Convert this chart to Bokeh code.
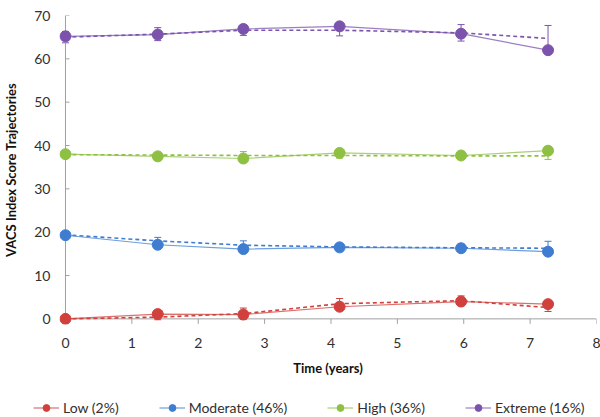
import math
from bokeh.plotting import figure
from bokeh.layouts import column
from bokeh.models import (ColumnDataSource, Range1d, Whisker, TeeHead, Legend,
                          LegendItem, FixedTicker)
from bokeh.embed import file_html
from bokeh.resources import INLINE

# ---- data ----
time_years = [0, 1.39, 2.68, 4.13, 5.96, 7.27]
series_names = ["Low (2%)", "Moderate (46%)", "High (36%)", "Extreme (16%)"]
low_observed = [0.0, 1.1, 1.0, 2.8, 4.0, 3.4]
low_estimated = [0.0, 0.4, 1.2, 3.5, 4.2, 2.6]
low_err = [0.2, 0.6, 1.3, 1.2, 1.1, 0.9]
moderate_observed = [19.3, 17.1, 16.1, 16.5, 16.3, 15.5]
moderate_estimated = [19.4, 18.0, 17.0, 16.6, 16.4, 16.3]
moderate_err = [0.4, 0.8, 1.0, 0.6, 0.8, 1.6]
high_observed = [38.0, 37.5, 37.0, 38.3, 37.7, 38.8]
high_estimated = [37.9, 37.8, 37.7, 37.7, 37.6, 37.6]
high_err = [0.4, 0.6, 0.9, 0.6, 0.5, 0.8]
extreme_observed = [65.2, 65.6, 66.9, 67.5, 65.8, 62.0]
extreme_estimated = [65.0, 65.7, 66.6, 66.6, 66.0, 64.7]
extreme_err = [1.3, 1.5, 1.2, 1.3, 1.9, 3.0]
x_ticks = [0, 1, 2, 3, 4, 5, 6, 7, 8]
y_ticks = [0, 10, 20, 30, 40, 50, 60, 70]

colors = ["#D0403C", "#3F7DD0", "#8EC043", "#7B53AD"]
observed = [low_observed, moderate_observed, high_observed, extreme_observed]
estimated = [low_estimated, moderate_estimated, high_estimated, extreme_estimated]
errors = [low_err, moderate_err, high_err, extreme_err]

FONT = "Lato"
AXIS_COLOR = "#A0A0A0"
WIDTH = 600
MAIN_H = 385
LEG_H = 32

p = figure(width=WIDTH, height=MAIN_H, output_backend="svg", toolbar_location=None,
           x_range=Range1d(-0.09, 8.0), y_range=Range1d(-1.3, 70),
           min_border_left=59, min_border_right=4, min_border_top=15,
           min_border_bottom=MAIN_H - 324)
p.outline_line_color = None
p.xgrid.visible = False
p.ygrid.visible = False
p.frame_align = False

# axes: labels from Bokeh axes; lines/ticks drawn at data zero
for ax in (p.xaxis[0], p.yaxis[0]):
    ax.axis_line_color = None
    ax.major_tick_line_color = None
    ax.minor_tick_line_color = None
    ax.major_tick_out = 0
    ax.major_tick_in = 0
    ax.major_label_text_font = FONT
    ax.major_label_text_font_size = "14px"
    ax.major_label_text_color = "#303030"
    ax.axis_label_text_font = FONT
    ax.axis_label_text_font_size = "13px"
    ax.axis_label_text_font_style = "bold"
    ax.axis_label_text_color = "#111111"

p.xaxis.ticker = FixedTicker(ticks=x_ticks)
p.yaxis.ticker = FixedTicker(ticks=y_ticks)
p.xaxis.major_label_standoff = 13
p.yaxis.major_label_standoff = 9
p.xaxis.axis_label = "Time (years)"
p.xaxis.axis_label_standoff = 9
p.yaxis.axis_label = "VACS Index Score Trajectories"
p.yaxis.axis_label_standoff = 12

# axis lines at zero and tick marks
p.segment(x0=[x_ticks[0]], y0=[y_ticks[0]], x1=[x_ticks[0]], y1=[y_ticks[-1]],
          line_color=AXIS_COLOR, line_width=1)
p.segment(x0=[x_ticks[0]], y0=[y_ticks[0]], x1=[x_ticks[-1]], y1=[y_ticks[0]],
          line_color=AXIS_COLOR, line_width=1)
p.ray(x=x_ticks, y=[y_ticks[0]] * len(x_ticks), length=5, angle=-math.pi / 2,
      length_units="screen", line_color=AXIS_COLOR, line_width=1)
p.ray(x=[x_ticks[0]] * len(y_ticks), y=y_ticks, length=4, angle=0,
      length_units="screen", line_color=AXIS_COLOR, line_width=1)

# legend strip (separate figure, its renderers lie outside its visible ranges)
pl = figure(width=WIDTH, height=LEG_H, output_backend="svg", toolbar_location=None,
            x_range=Range1d(-30, -20), y_range=Range1d(-30, -20),
            x_axis_type=None, y_axis_type=None, min_border=0)
pl.outline_line_color = None
pl.frame_align = False

items = []
for name, col, obs, est, err in zip(series_names, colors, observed, estimated, errors):
    upper = [e + d for e, d in zip(est, err)]
    lower = [e - d for e, d in zip(est, err)]
    src = ColumnDataSource(dict(x=time_years, obs=obs, est=est, upper=upper, lower=lower))
    p.line("x", "est", source=src, line_color=col, line_width=1.6, line_dash="4 3")
    wh = Whisker(source=src, base="x", upper="upper", lower="lower",
                 line_color=col, line_width=1,
                 upper_head=TeeHead(size=7, line_color=col, line_width=1),
                 lower_head=TeeHead(size=7, line_color=col, line_width=1))
    wh.level = "underlay"
    p.add_layout(wh)
    p.line("x", "obs", source=src, line_color=col, line_width=1.2, line_alpha=0.75)
    p.scatter("x", "obs", source=src, size=11, fill_color=col, line_color=col)
    lr = pl.line(time_years, obs, line_color=col, line_width=1.2, line_alpha=0.75)
    sr = pl.scatter(time_years, obs, size=11, fill_color=col, line_color=col)
    items.append(LegendItem(label=name, renderers=[lr, sr]))

legend = Legend(items=items, orientation="horizontal", location=(33, 1),
                padding=0, margin=0, spacing=40, glyph_width=26, glyph_height=17,
                label_standoff=4, label_text_font=FONT, label_text_font_size="14px",
                label_text_color="#303030", border_line_color=None,
                background_fill_alpha=0)
pl.add_layout(legend, "center")

layout = column(p, pl, spacing=0)
open("out.html", "w").write(file_html(layout, INLINE))
